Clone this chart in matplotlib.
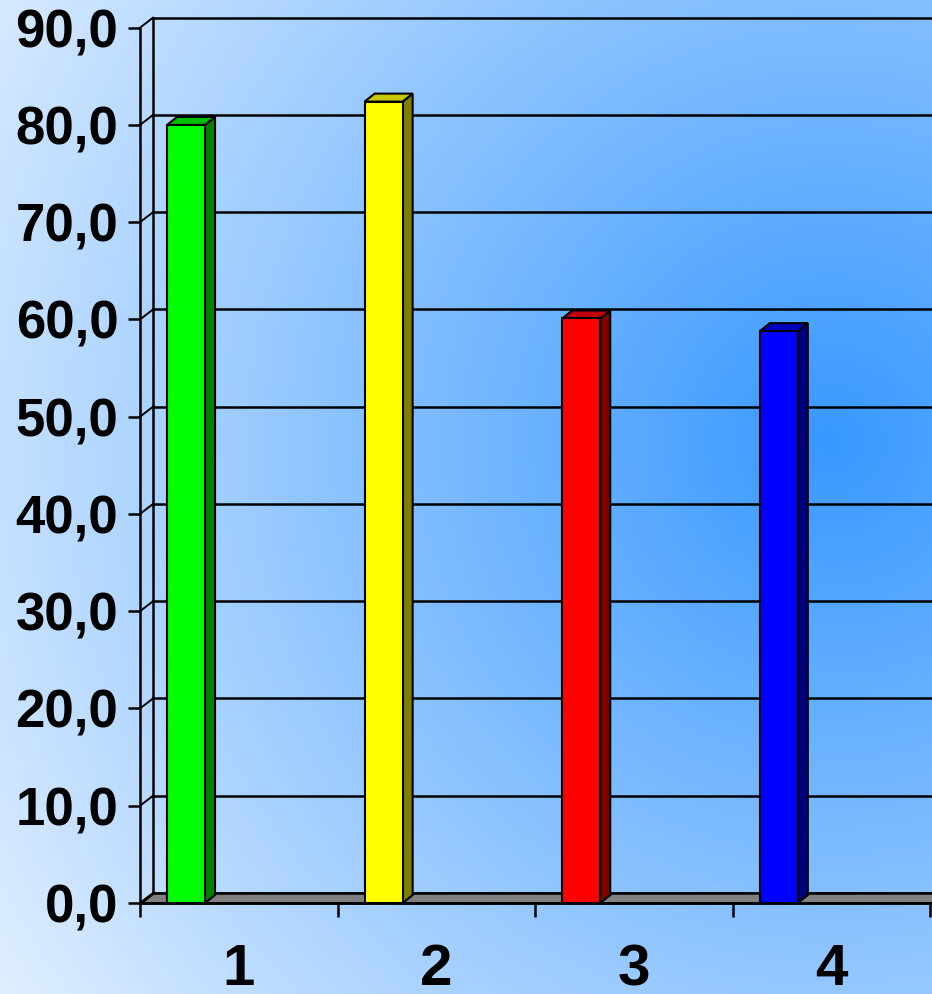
## import libraries ##
import matplotlib
matplotlib.use('Agg')
import matplotlib.pyplot as plt
import numpy as np
from matplotlib.patches import Polygon

## chart data ##
categories = [1, 2, 3, 4]
values = [80.0, 82.4, 60.1, 58.8]
front_colors = ['#00ff00', '#ffff00', '#ff0000', '#0000ff']
top_colors = ['#00c000', '#c8c800', '#c00000', '#0000c0']
side_colors = ['#008000', '#808000', '#800000', '#000080']
y_ticks = [0, 10, 20, 30, 40, 50, 60, 70, 80, 90]
y_labels = ['0,0', '10,0', '20,0', '30,0', '40,0', '50,0', '60,0', '70,0', '80,0', '90,0']

plt.rcParams['font.family'] = ['Liberation Sans', 'DejaVu Sans']

W, H = 932, 994
fig = plt.figure(figsize=(W / 100, H / 100), dpi=100)

## background: radial blue gradient ##
yy, xx = np.mgrid[0:H, 0:W]
d = np.hypot(xx - 830, yy - 440)
r = np.clip(56 + 0.169 * d, 0, 255)
g = np.clip(152 + 0.087 * d, 0, 255)
b = np.full_like(r, 255)
grad = np.dstack([r, g, b]) / 255.0
bg = fig.add_axes([0, 0, 1, 1])
bg.imshow(grad, aspect='auto', interpolation='bilinear')
bg.axis('off')

## main axes (front plane) ##
ax = fig.add_axes([140 / W, 91 / H, 792 / W, 875.3 / H])
ax.patch.set_alpha(0)
ax.set_xlim(0.5, 0.5 + 792 / 197.6)
ax.set_ylim(0, 90)
for s in ['top', 'right']:
    ax.spines[s].set_visible(False)
for s in ['left', 'bottom']:
    ax.spines[s].set_linewidth(1.8)
    ax.spines[s].set_zorder(5)

# pixel offsets of the 3D depth converted through the axes scales
fig.canvas.draw()
p0 = ax.transData.transform((0, 0))
p1 = ax.transData.transform((1, 1))
px_x = p1[0] - p0[0]
px_y = p1[1] - p0[1]
wall_dx, wall_dy = 13 / px_x, 10 / px_y
bar_dx, bar_dy = 10 / px_x, 8 / px_y
xmax = ax.get_xlim()[1] + 0.2

## back wall, gridlines, floor ##
for v in y_ticks:
    ax.plot([0.5 + wall_dx, xmax], [v + wall_dy, v + wall_dy], color='black', lw=1.8,
            clip_on=False, zorder=1)
    ax.plot([0.5, 0.5 + wall_dx], [v, v + wall_dy], color='black', lw=1.4,
            clip_on=False, zorder=1)
ax.plot([0.5 + wall_dx, 0.5 + wall_dx], [wall_dy, 90 + wall_dy], color='black', lw=1.8,
        clip_on=False, zorder=1)
floor = Polygon([(0.5, 0), (xmax, 0), (xmax, wall_dy), (0.5 + wall_dx, wall_dy)],
                closed=True, facecolor='#808080', edgecolor='black', lw=1.8,
                clip_on=False, zorder=2)
ax.add_patch(floor)

## 3D bars ##
bar_w = 38 / px_x
xs = [c - 0.267 for c in categories]
for x, v, fc, tc, sc in zip(xs, values, front_colors, top_colors, side_colors):
    left, right = x - bar_w / 2, x + bar_w / 2
    side = Polygon([(right, 0), (right + bar_dx, bar_dy), (right + bar_dx, v + bar_dy), (right, v)],
                   closed=True, facecolor=sc, edgecolor='black', lw=1.5, zorder=3, clip_on=False)
    top = Polygon([(left, v), (right, v), (right + bar_dx, v + bar_dy), (left + bar_dx, v + bar_dy)],
                  closed=True, facecolor=tc, edgecolor='black', lw=1.5, zorder=3, clip_on=False)
    ax.add_patch(side)
    ax.add_patch(top)
ax.bar(xs, values, width=bar_w, color=front_colors, edgecolor='black', linewidth=1.5, zorder=4)

## ticks and labels ##
ax.set_yticks(y_ticks)
ax.set_yticklabels(y_labels, fontsize=38, fontweight='bold')
ax.tick_params(axis='y', direction='out', length=8.6, width=1.8, pad=7)

ax.set_xticks([0.5, 1.5, 2.5, 3.5, 4.5])
ax.set_xticklabels([])
ax.tick_params(axis='x', which='major', direction='out', length=10, width=1.8)
ax.set_xticks(categories, minor=True)
ax.set_xticklabels([str(c) for c in categories], minor=True, fontsize=42, fontweight='bold')
ax.tick_params(axis='x', which='minor', length=0, pad=29)

fig.savefig('out.png', dpi=100)
